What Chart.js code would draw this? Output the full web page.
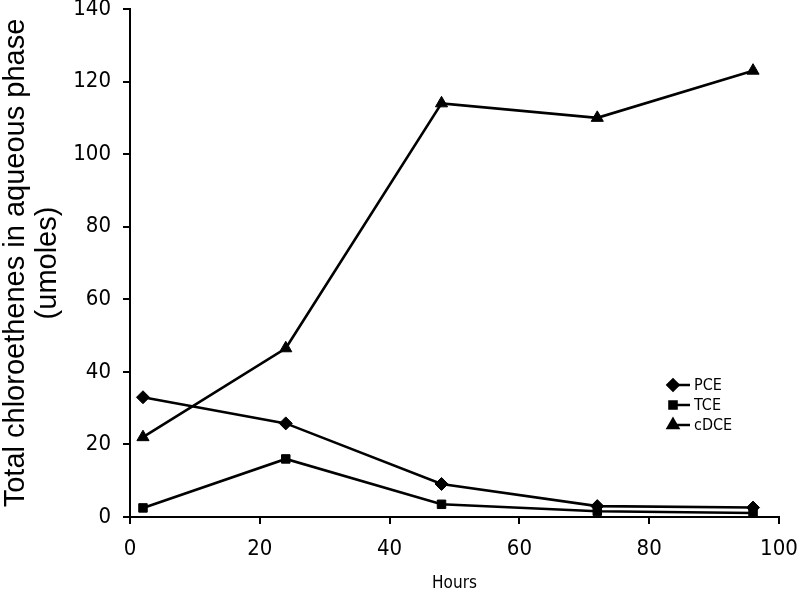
<!DOCTYPE html>
<html>
<head>
<meta charset="utf-8">
<script src="https://cdn.jsdelivr.net/npm/chart.js@4.4.1/dist/chart.umd.min.js"></script>
<style>
html,body{margin:0;padding:0;background:#fff;}
#wrap{width:800px;height:594px;position:relative;}
</style>
</head>
<body>
<div id="wrap"><canvas id="c" width="800" height="594"></canvas></div>
<script>
const hours = [2, 24, 48, 72, 96];
const pce = [33, 25.8, 9.1, 3, 2.6];
const tce = [2.5, 16, 3.5, 1.6, 1.1];
const cdce = [22, 46.5, 114, 110, 123];
const seriesNames = ['PCE', 'TCE', 'cDCE'];
const yTitle = ['Total chloroethenes in aqueous phase', '(umoles)'];
const xTitle = 'Hours';

const FONT = '"DejaVu Sans Condensed", "DejaVu Sans", sans-serif';

function pts(vals){ return hours.map((h,i)=>({x:h,y:vals[i]})); }

const styles = ['rectRot','rect','triangle'];
const radii = [6.5,6,7];

const legendPlugin = {
  id:'customLegend',
  afterDraw(chart){
    const ctx = chart.ctx;
    const x0 = 672, rows=[385,405,425];
    ctx.save();
    chart.data.datasets.forEach((ds,i)=>{
      const y = rows[i];
      ctx.strokeStyle='#000'; ctx.lineWidth=2.5;
      ctx.beginPath(); ctx.moveTo(x0,y); ctx.lineTo(x0+18,y); ctx.stroke();
      ctx.fillStyle='#000';
      Chart.helpers.drawPoint(ctx,{pointStyle:styles[i],radius:radii[i]-1,borderWidth:1},x0+1,y);
      ctx.fill();
      ctx.font='16px ' + FONT;
      ctx.textBaseline='middle'; ctx.textAlign='left';
      ctx.fillText(ds.label,x0+22,y+1);
    });
    ctx.restore();
  }
};

const datasets = [pce,tce,cdce].map((v,i)=>({
  label: seriesNames[i],
  data: pts(v),
  borderColor:'#000',
  backgroundColor:'#000',
  borderWidth:2.6,
  pointStyle:styles[i],
  pointRadius:radii[i],
  pointBackgroundColor:'#000',
  pointBorderColor:'#000',
  pointBorderWidth:1,
  tension:0
}));

new Chart(document.getElementById('c'),{
  type:'line',
  data:{datasets},
  plugins:[legendPlugin],
  options:{
    responsive:false,
    animation:false,
    layout:{padding:{left:0,right:21,top:9,bottom:0}},
    plugins:{legend:{display:false},tooltip:{enabled:false}},
    scales:{
      x:{
        type:'linear',min:0,max:100,
        ticks:{stepSize:20,color:'#000',font:{family:FONT,size:22},padding:12},
        grid:{drawOnChartArea:false,color:'#000',tickLength:7,lineWidth:2},
        border:{color:'#000',width:2},
        title:{display:true,text:xTitle,color:'#000',font:{family:FONT,size:17},padding:{top:5,bottom:0}},
        afterFit(s){ s.height=77; s.paddingLeft=0; s.paddingRight=0; }
      },
      y:{
        type:'linear',min:0,max:140,
        ticks:{stepSize:20,color:'#000',font:{family:FONT,size:22},padding:12},
        grid:{drawOnChartArea:false,color:'#000',tickLength:7,lineWidth:2},
        border:{color:'#000',width:2},
        title:{display:true,text:yTitle,color:'#000',font:{family:'"Liberation Sans", Arial, sans-serif',size:29,lineHeight:1.1},padding:{top:0,bottom:2}},
        afterFit(s){ s.width=130; s.paddingTop=0; s.paddingBottom=0; }
      }
    }
  }
});
</script>
</body>
</html>
